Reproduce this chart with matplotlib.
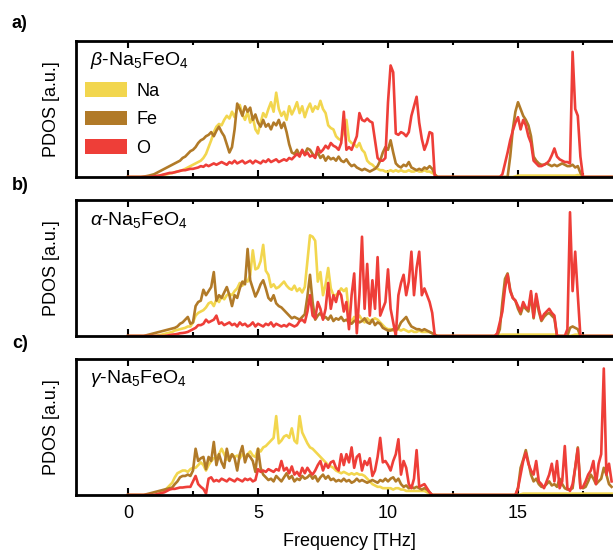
import numpy as np
import matplotlib
matplotlib.use('Agg')
import matplotlib.pyplot as plt
from matplotlib.patches import Patch
from matplotlib.ticker import MultipleLocator

plt.rcParams['font.family'] = ['Liberation Sans', 'DejaVu Sans']
plt.rcParams['mathtext.fontset'] = 'custom'
plt.rcParams['mathtext.rm'] = 'Liberation Sans'
plt.rcParams['mathtext.it'] = 'Liberation Sans:italic'
plt.rcParams['mathtext.bf'] = 'Liberation Sans:bold'

# frequency grid [THz], 0.0 ... 18.6
freq = np.round(np.arange(0, 18.65, 0.1), 1)
Z = [0] * 10

# ---- beta ----
na_beta = np.array([
    0, 0, 0, 0, 0, 0, 0, 0, 0, 0,
    .003, .006, .01, .013, .017, .02, .025, .03, .035, .04,
    .045, .05, .06, .07, .08, .09, .10, .11, .12, .14,
    .17, .22, .27, .33, .37, .39, .38, .42, .45, .43,
    .48, .44, .50, .53, .46, .42, .48, .40, .44, .35,
    .32, .40, .47, .44, .50, .55, .48, .62, .50, .45,
    .48, .42, .52, .46, .50, .55, .47, .52, .44, .50,
    .54, .48, .52, .50, .56, .50, .47, .38, .36, .35,
    .30, .28, .27, .35, .42, .27, .25, .24, .22, .25,
    .20, .18, .12, .10, .09, .07, .06, .05, .05, .04,
    .04, .05, .04, .05, .04, .05, .04, .04, .05, .04,
    .04, .05, .04, .04, .05, .04, .04, .03, .02, 0] + Z + Z + [
    0, 0, 0, 0, 0, 0, 0, 0, 0, .005,
    .01, .01, .01, .01, .01, .01, .01, .01, .01, .01,
    .01, .01, .01, .01, .01, .01, .01, .01, .01, .01,
    .01, .01, .01, .015, .01, 0, 0, 0, 0, 0,
    0, 0, 0, 0, 0, 0, 0])
fe_beta = np.array([
    0, 0, 0, 0, 0, 0, .003, .006, .01, .015,
    .02, .03, .04, .05, .06, .07, .08, .09, .10, .11,
    .12, .14, .15, .17, .19, .20, .22, .25, .27, .28,
    .30, .31, .33, .30, .34, .37, .33, .30, .24, .18,
    .22, .35, .54, .50, .45, .52, .48, .51, .42, .46,
    .40, .37, .42, .37, .39, .35, .40, .38, .42, .36,
    .40, .33, .24, .18, .17, .20, .16, .19, .17, .21,
    .20, .17, .15, .18, .14, .16, .12, .15, .13, .14,
    .12, .15, .12, .11, .13, .10, .08, .09, .07, .06,
    .05, .06, .05, .04, .05, .06, .08, .12, .18, .22,
    .20, .27, .18, .10, .08, .07, .09, .08, .11, .07,
    .06, .05, .06, .05, .07, .06, .08, .06, .02, 0] + Z + Z + [
    0, 0, 0, 0, 0, 0, 0, .15, .35, .48,
    .55, .50, .45, .42, .38, .30, .15, .12, .10, .09,
    .09, .10, .09, .08, .09, .08, .09, .10, .09, .08,
    .08, .09, .07, .08, .03, 0, 0, 0, 0, 0,
    0, 0, 0, 0, 0, 0, 0])
o_beta = np.array([
    0, 0, 0, 0, 0, 0, 0, 0, 0, .002,
    .005, .008, .01, .015, .02, .025, .03, .03, .035, .04,
    .045, .05, .05, .055, .06, .06, .065, .07, .08, .075,
    .09, .08, .09, .10, .09, .10, .11, .10, .09, .11,
    .10, .12, .10, .11, .12, .10, .11, .12, .10, .12,
    .11, .10, .12, .11, .13, .11, .12, .13, .11, .12,
    .13, .12, .14, .13, .15, .17, .15, .20, .16, .18,
    .15, .16, .14, .22, .18, .20, .23, .21, .25, .23,
    .22, .20, .25, .48, .20, .22, .20, .25, .30, .47,
    .42, .41, .43, .41, .40, .27, .14, .12, .12, .14,
    .55, .82, .77, .32, .31, .33, .32, .30, .33, .45,
    .52, .59, .40, .28, .20, .25, .33, .32, 0, 0] + Z + Z + [
    0, 0, 0, 0, .02, .10, .18, .27, .34, .40,
    .44, .35, .42, .38, .30, .25, .12, .10, .08, .08,
    .09, .10, .12, .16, .21, .15, .13, .12, .11, .11,
    .10, .92, .50, .45, .15, 0, 0, 0, 0, 0,
    0, 0, 0, 0, 0, 0, 0])

# ---- alpha ----
na_alpha = np.array([
    0, 0, 0, 0, 0, 0, 0, 0, 0, 0,
    0, .003, .006, .01, .015, .02, .025, .03, .04, .045,
    .05, .055, .06, .07, .07, .10, .15, .17, .18, .19,
    .21, .24, .25, .22, .27, .25, .29, .27, .30, .31,
    .30, .33, .35, .39, .37, .41, .40, .45, .63, .49,
    .50, .55, .67, .48, .45, .36, .38, .35, .36, .38,
    .40, .37, .35, .34, .37, .33, .35, .32, .36, .55,
    .74, .73, .70, .40, .47, .30, .38, .50, .35, .30,
    .30, .32, .35, .33, .35, .15, .10, .14, .12, .15,
    .12, .10, .13, .11, .12, .13, .12, .10, .08, .06,
    .05, .05, .04, .05, .05, .04, .05, .04, .03, .04,
    .03, .03, .04, .03, .03, .03, .03, .02, .01, 0] + Z + Z + [
    0, 0, .005, .008, .01, .01, .01, .01, .01, .01,
    .01, .01, .01, .01, .01, .01, .01, .01, .01, .01,
    .01, .01, .01, .01, .01, .005, 0, 0, 0, 0,
    0, .005, .01, .01, .005, 0, 0, 0, 0, 0,
    0, 0, 0, 0, 0, 0, 0])
fe_alpha = np.array([
    0, 0, 0, 0, 0, 0, 0, .005, .01, .015,
    .02, .025, .03, .035, .04, .045, .05, .055, .06, .07,
    .09, .10, .12, .14, .09, .10, .22, .25, .26, .34,
    .30, .33, .36, .47, .26, .30, .28, .32, .36, .30,
    .22, .30, .28, .35, .40, .38, .64, .41, .35, .29,
    .33, .38, .41, .35, .28, .26, .30, .24, .22, .21,
    .19, .17, .15, .13, .14, .13, .12, .14, .16, .29,
    .45, .25, .12, .15, .17, .13, .14, .12, .15, .11,
    .13, .12, .14, .11, .12, .10, .09, .11, .12, .10,
    .11, .13, .10, .09, .12, .08, .10, .09, .06, .05,
    .04, .04, .05, .04, .06, .10, .12, .14, .10, .07,
    .06, .05, .05, .04, .05, .04, .03, .02, .01, 0] + Z + Z + [
    0, 0, 0, .05, .25, .42, .46, .34, .28, .26,
    .20, .16, .22, .20, .18, .30, .13, .28, .18, .11,
    .14, .16, .17, .15, .13, 0, 0, 0, 0, 0,
    .06, .07, .06, .05, 0, 0, 0, 0, 0, 0,
    0, 0, 0, 0, 0, 0, 0])
o_alpha = np.array([
    0, 0, 0, 0, 0, 0, 0, 0, 0, 0,
    0, 0, 0, 0, 0, .003, .006, .01, .012, .015,
    .02, .022, .025, .03, .04, .05, .06, .08, .08, .09,
    .12, .10, .11, .12, .15, .09, .10, .08, .09, .10,
    .08, .09, .07, .10, .08, .09, .07, .08, .10, .07,
    .09, .08, .07, .09, .08, .10, .07, .09, .08, .07,
    .08, .07, .09, .08, .07, .08, .11, .12, .10, .18,
    .30, .15, .13, .25, .20, .12, .20, .39, .20, .30,
    .25, .33, .30, .18, .25, .05, .30, .46, .02, .30,
    .73, .20, .53, .15, .41, .20, .58, .15, .20, .25,
    .49, .20, .10, 0, .30, .39, .45, .30, .40, .62,
    .30, .50, .62, .30, .35, .30, .25, .17, 0, 0] + Z + Z + [
    0, 0, .02, .10, .18, .35, .45, .33, .28, .26,
    .22, .18, .25, .21, .20, .33, .14, .31, .20, .12,
    .16, .18, .20, .17, .15, 0, 0, 0, 0, .05,
    .91, .33, .62, .30, 0, 0, 0, 0, 0, 0,
    0, 0, 0, 0, 0, 0, 0])

# ---- gamma ----
na_gamma = np.array([
    0, 0, 0, 0, 0, 0, 0, 0, 0, 0,
    0, .005, .01, .02, .03, .05, .07, .09, .13, .16,
    .17, .18, .18, .17, .19, .20, .20, .22, .24, .22,
    .18, .22, .25, .27, .28, .30, .34, .30, .26, .28,
    .30, .28, .29, .27, .30, .28, .30, .32, .29, .28,
    .34, .32, .35, .36, .38, .40, .42, .58, .38, .40,
    .43, .44, .42, .49, .40, .38, .58, .46, .42, .38,
    .35, .34, .32, .30, .28, .26, .24, .22, .21, .20,
    .18, .17, .16, .17, .16, .15, .16, .15, .16, .15,
    .15, .14, .12, .10, .08, .07, .06, .06, .05, .05,
    .05, .05, .04, .05, .05, .04, .04, .03, .03, .03,
    .03, .03, .03, .03, .03, .02, .01, 0, 0, 0] + Z + Z + Z + [
    0, .005, .01, .01, .01, .01, .01, .01, .01, .01,
    .01, .01, .01, .01, .01, .01, .01, .01, .01, .01,
    .01, .01, .01, .01, .01, .01, .01, .01, .01, .01,
    .01, .01, .01, .01, .01, .01, .01])
fe_gamma = np.array([
    0, 0, 0, 0, 0, 0, 0, .005, .01, .015,
    .02, .025, .03, .035, .04, .045, .05, .055, .08, .10,
    .13, .14, .14, .15, .14, .18, .34, .25, .27, .28,
    .19, .28, .25, .39, .22, .30, .24, .20, .34, .25,
    .30, .27, .18, .30, .36, .24, .30, .28, .25, .17,
    .34, .20, .15, .13, .11, .12, .10, .14, .12, .10,
    .13, .16, .12, .14, .10, .12, .11, .14, .12, .13,
    .15, .12, .14, .10, .13, .15, .12, .14, .11, .12,
    .10, .11, .10, .12, .10, .11, .09, .10, .12, .10,
    .11, .10, .09, .10, .11, .10, .09, .11, .10, .12,
    .10, .12, .13, .10, .12, .08, .06, .07, .05, .06,
    .05, .06, .05, .04, .05, .04, .02, 0, 0, 0] + Z + Z + Z + [
    .05, .20, .26, .33, .24, .15, .10, .12, .08, .06,
    .06, .08, .10, .07, .08, .06, .12, .08, .05, .04,
    .04, .05, .20, .35, .06, .05, .06, .10, .15, .12,
    .08, .10, .12, .20, .15, .08, .06])
o_gamma = np.array([
    0, 0, 0, 0, 0, 0, 0, 0, 0, 0,
    0, .005, .01, .015, .02, .03, .04, .045, .045, .05,
    .055, .055, .058, .06, .06, .10, .14, .08, .06, .045,
    .01, .12, .13, .10, .11, .10, .12, .11, .10, .12,
    .11, .10, .12, .11, .10, .12, .11, .12, .10, .11,
    .19, .17, .18, .17, .19, .18, .17, .19, .18, .25,
    .18, .20, .16, .21, .15, .17, .14, .20, .16, .20,
    .17, .15, .18, .22, .25, .18, .23, .20, .24, .25,
    .20, .18, .30, .22, .30, .24, .35, .20, .28, .30,
    .18, .25, .22, .27, .14, .18, .28, .42, .24, .25,
    .22, .18, .25, .30, .41, .15, .25, .20, .08, .05,
    .12, .33, .06, .07, .08, .05, .02, 0, 0, 0] + Z + Z + Z + [
    .05, .15, .25, .31, .23, .18, .15, .25, .10, .08,
    .05, .10, .15, .23, .10, .25, .05, .10, .36, .05,
    .03, .08, .20, .34, .05, .06, .10, .15, .18, .25,
    .08, .23, .30, .93, .15, .23, .10])

species = ['Na', 'Fe', 'O']
colors = ['#F2D64E', '#B17A28', '#EE3E38']
phases = [r'$\beta$-Na$_5$FeO$_4$', r'$\alpha$-Na$_5$FeO$_4$', r'$\gamma$-Na$_5$FeO$_4$']
panel_labels = ['a)', 'b)', 'c)']
data = [(na_beta, fe_beta, o_beta), (na_alpha, fe_alpha, o_alpha), (na_gamma, fe_gamma, o_gamma)]

W, H = 613, 554
fig = plt.figure(figsize=(W / 100, H / 100), dpi=100)
tops = [41, 200, 359]
label_y = [24, 185, 344]
ax_h = 136

for i in range(3):
    ax = fig.add_axes([76 / W, 1 - (tops[i] + ax_h) / H, 546 / W, ax_h / H])
    for curve, c in zip(data[i], colors):
        ax.plot(freq, curve, color=c, lw=1.9)
    ax.set_xlim(-2, 19)
    ax.set_ylim(0, 1)
    ax.set_yticks([])
    ax.xaxis.set_major_locator(MultipleLocator(5))
    ax.xaxis.set_minor_locator(MultipleLocator(2.5))
    ax.tick_params(axis='x', which='both', direction='in', top=True, bottom=True,
                   width=1.5, labelsize=13, pad=7, labelbottom=(i == 2))
    ax.tick_params(axis='x', which='major', length=5)
    ax.tick_params(axis='x', which='minor', length=3)
    for sp in ax.spines.values():
        sp.set_linewidth(2)
    ax.set_ylabel('PDOS [a.u.]', fontsize=13)
    ax.yaxis.set_label_coords(-0.029, 0.5)
    ax.text(0.0256, 0.853, phases[i], transform=ax.transAxes, fontsize=14, va='center')
    fig.text(12 / W, 1 - label_y[i] / H, panel_labels[i], fontsize=13,
             fontweight='bold', va='center')
    if i == 0:
        handles = [Patch(facecolor=c, edgecolor='none') for c in colors]
        ax.legend(handles, species, loc='upper left', bbox_to_anchor=(0.0165, 0.695),
                  frameon=False, fontsize=13, borderpad=0, borderaxespad=0,
                  handlelength=2.3, handleheight=0.85, handletextpad=0.55,
                  labelspacing=0.61)
    if i == 2:
        ax.set_xlabel('Frequency [THz]', fontsize=13, labelpad=8)

fig.savefig('out.png', dpi=100)
